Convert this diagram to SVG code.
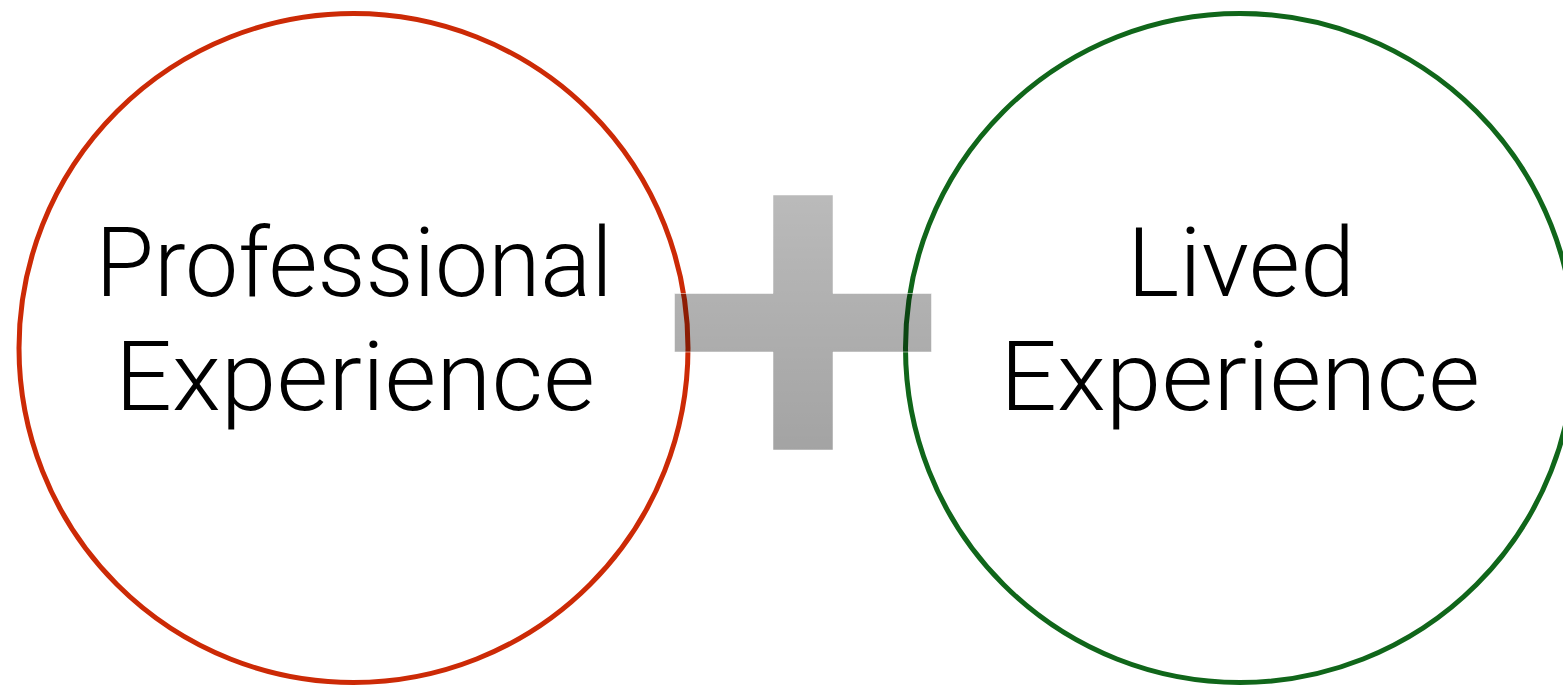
<svg xmlns="http://www.w3.org/2000/svg" width="1563" height="687" viewBox="0 0 1563 687">
  <defs>
    <linearGradient id="plusShade" x1="0" y1="195" x2="0" y2="450" gradientUnits="userSpaceOnUse">
      <stop offset="0" stop-color="#000" stop-opacity="0.27"/>
      <stop offset="1" stop-color="#000" stop-opacity="0.36"/>
    </linearGradient>
  </defs>
  <style>
    .ring { fill: #ffffff; stroke-width: 5; }
    .label { font-family: Roboto, "Liberation Sans", sans-serif; font-weight: 300; font-size: 96px; fill: #000; text-anchor: middle; }
  </style>
  <rect width="1563" height="687" fill="#ffffff"/>

  <g id="professional">
    <circle class="ring" cx="353.5" cy="348" r="334.5" stroke="#cc2a06"/>
    <text class="label" x="354" y="296" textLength="517" lengthAdjust="spacingAndGlyphs">Professional</text>
    <text class="label" x="355" y="410" textLength="480" lengthAdjust="spacingAndGlyphs">Experience</text>
  </g>

  <g id="lived">
    <circle class="ring" cx="1240" cy="348" r="334.5" stroke="#10661a"/>
    <text class="label" x="1241" y="296" textLength="228" lengthAdjust="spacingAndGlyphs">Lived</text>
    <text class="label" x="1240" y="410" textLength="480" lengthAdjust="spacingAndGlyphs">Experience</text>
  </g>

  <g id="connectors">
    <!-- plus sign joining the two circles -->
    <path d="M773 195 H833 V293.5 H931.5 V352 H833 V450 H773 V352 H674.5 V293.5 H773 Z" fill="url(#plusShade)" stroke="#ffffff" stroke-opacity="0.5" stroke-width="1"/>
  </g>
</svg>
